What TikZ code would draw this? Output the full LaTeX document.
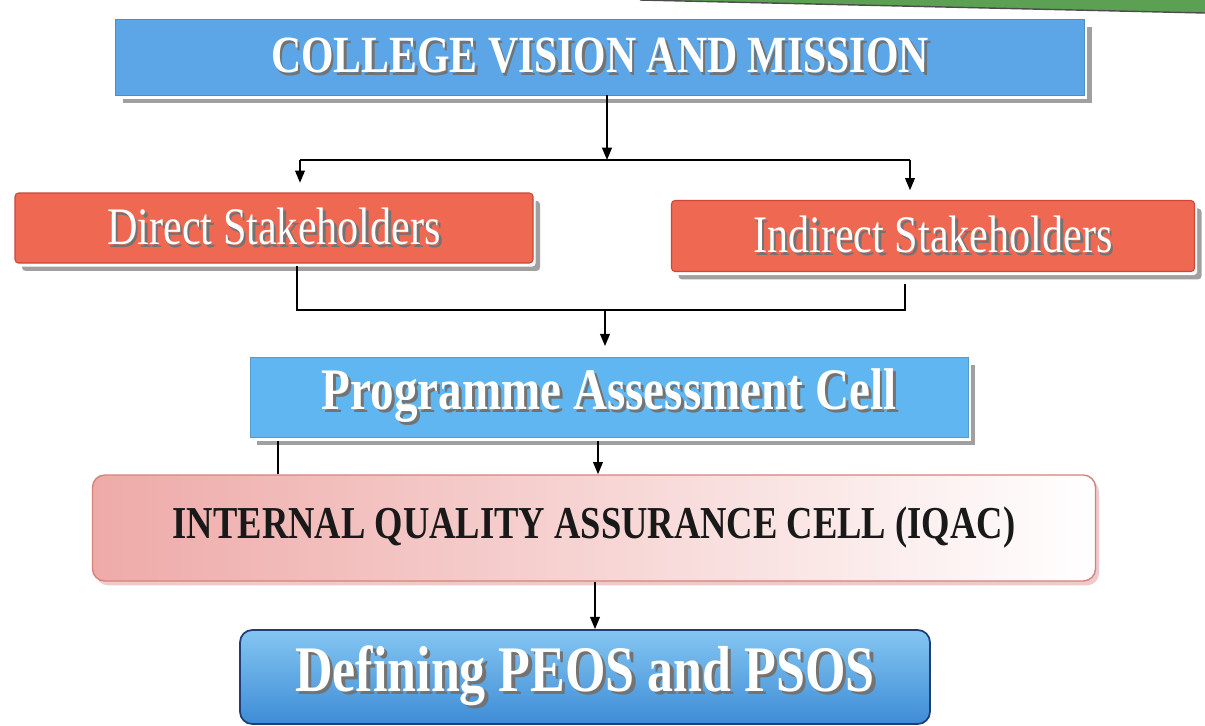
\documentclass[tikz,border=0pt]{standalone}
\usepackage{fontspec}
\setmainfont{Liberation Serif}
\newfontfamily\condserif[FakeStretch=0.8]{Liberation Serif}
\usetikzlibrary{arrows.meta,shadows}

\definecolor{capblue}{RGB}{92,166,232}
\definecolor{cellblue}{RGB}{96,182,240}
\definecolor{stakered}{RGB}{238,104,82}
\definecolor{stakeedge}{RGB}{205,70,55}
\definecolor{iqpink}{RGB}{238,170,168}
\definecolor{iqedge}{RGB}{215,130,125}
\definecolor{peotop}{RGB}{132,198,242}
\definecolor{peobot}{RGB}{62,140,214}
\definecolor{peoedge}{RGB}{32,62,118}
\definecolor{bandgreen}{RGB}{92,160,84}
\definecolor{edgegray}{RGB}{160,160,160}

% white text with a soft dark relief behind it
\newcommand\reliefed[1]{\makebox[0pt][l]{\kern0.05em\raisebox{-0.05em}{\textcolor{black!55}{#1}}}#1}

\tikzset{
  layered/.style={
    general shadow={fill=edgegray, shadow xshift=4pt, shadow yshift=-4.5pt},
    general shadow={fill=white, shadow xshift=1.5pt, shadow yshift=-2pt}},
  bluebar/.style={layered, rectangle, fill=capblue, draw=capblue!85!black, line width=0.4pt,
    text=white, font=\condserif\bfseries\fontsize{29.7pt}{32pt}\selectfont},
  stakebox/.style={layered, rectangle, rounded corners=2pt, fill=stakered, draw=stakeedge,
    line width=0.6pt, text=white, font=\condserif\fontsize{30pt}{32pt}\selectfont},
  cellbar/.style={layered, rectangle, fill=cellblue, draw=cellblue!85!black, line width=0.4pt,
    text=white, font=\condserif\bfseries\fontsize{33.5pt}{36pt}\selectfont},
  iqbox/.style={rectangle, rounded corners=7pt, left color=iqpink, right color=white,
    draw=iqedge, line width=0.8pt, text=black!90,
    drop shadow={shadow xshift=2pt, shadow yshift=-2.5pt, fill=iqedge!70, opacity=0.6},
    font=\condserif\bfseries\fontsize{26pt}{28pt}\selectfont},
  peobox/.style={rectangle, rounded corners=7pt, top color=peotop, bottom color=peobot,
    draw=peoedge, line width=1pt, text=white,
    font=\condserif\bfseries\fontsize{37pt}{40pt}\selectfont},
  link/.style={draw=black, line width=1.1pt},
  flow/.style={link, -{Triangle[length=7pt,width=5.5pt]}}
}

\begin{document}
\begin{tikzpicture}[x=0.02cm, y=-0.02cm]
\useasboundingbox (0,0) rectangle (1205,725);
\fill[white] (0,0) rectangle (1205,725);

% green header band in the top right corner
\fill[bandgreen] (640,0) -- (1205,0) -- (1205,13) -- cycle;
\draw[black!70, line width=0.8pt] (640,0) -- (1205,13);

% boxes
\node[bluebar, minimum width={969*0.02cm}, minimum height={76*0.02cm}] (cvm) at (600,57)
  {\reliefed{COLLEGE VISION AND MISSION}};
\node[stakebox, minimum width={518*0.02cm}, minimum height={70*0.02cm}] (ds) at (274,228)
  {\reliefed{Direct Stakeholders}};
\node[stakebox, minimum width={523*0.02cm}, minimum height={71*0.02cm}] (is) at (933,236)
  {\reliefed{Indirect Stakeholders}};
\node[cellbar, minimum width={718*0.02cm}, minimum height={80*0.02cm}] (pac) at (609,397)
  {\reliefed{Programme Assessment Cell}};
\node[iqbox, minimum width={1003*0.02cm}, minimum height={106*0.02cm}] (iqac) at (594,528)
  {INTERNAL QUALITY ASSURANCE CELL (IQAC)};
\node[peobox, minimum width={690*0.02cm}, minimum height={94*0.02cm}] (def) at (585,677)
  {\reliefed{Defining PEOS and PSOS}};

% junction points of the connectors
\coordinate (split) at (607,160);
\coordinate (splitL) at (300,160);
\coordinate (splitR) at (910,160);
\coordinate (dsx) at (297,0);
\coordinate (isx) at (905,0);
\coordinate (merge) at (605,310);
\coordinate (pacL) at (278,0);
\coordinate (pacM) at (598,0);
\coordinate (iqM) at (595,0);

% vision -> stakeholders
\draw[flow] (cvm.south -| split) -- (split);
\draw[link] (splitL) -- (splitR);
\draw[flow] (splitL) -- ([yshift=5.5pt]ds.north -| splitL);
\draw[flow] (splitR) -- ([yshift=5.5pt]is.north -| splitR);

% stakeholders -> assessment cell
\draw[link] ([yshift=-1.5pt]ds.south -| dsx) -- (merge -| dsx) -- (merge -| isx)
  -- ([yshift=-7pt]is.south -| isx);
\draw[flow] (merge) -- ([yshift=6pt]pac.north -| merge);

% assessment cell -> IQAC
\draw[link] ([yshift=-2pt]pac.south -| pacL) -- (iqac.north -| pacL);
\draw[flow] ([yshift=-2pt]pac.south -| pacM) -- (iqac.north -| pacM);

% IQAC -> PEOs and PSOs
\draw[flow] (iqac.south -| iqM) -- (def.north -| iqM);
\end{tikzpicture}
\end{document}
